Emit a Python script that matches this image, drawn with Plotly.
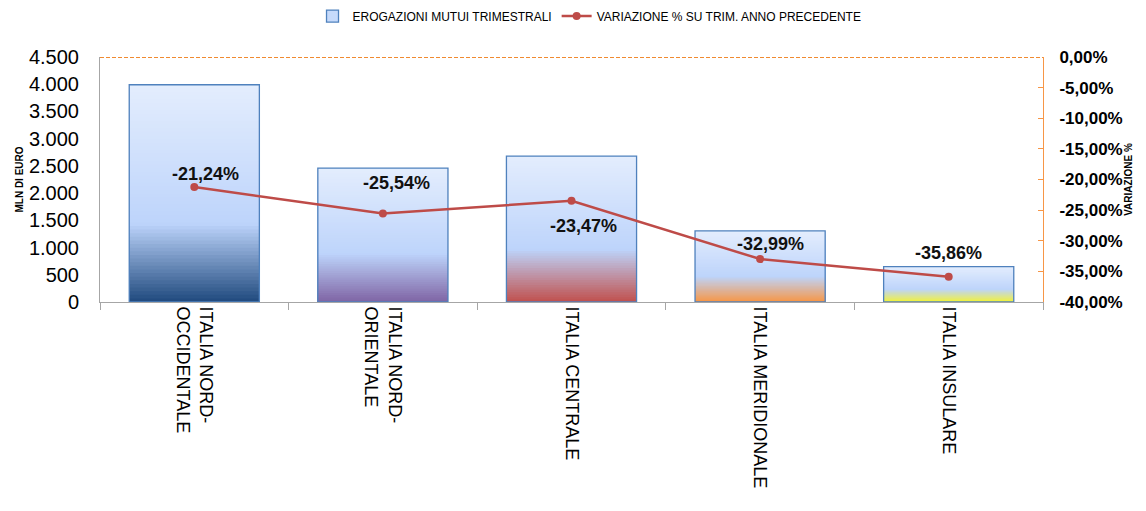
import plotly.graph_objects as go

# ---- data ----
categories = ["ITALIA NORD-<br>OCCIDENTALE", "ITALIA NORD-<br>ORIENTALE", "ITALIA CENTRALE",
              "ITALIA MERIDIONALE", "ITALIA INSULARE"]
erogazioni = [3990, 2460, 2680, 1305, 648]          # MLN di euro
variazione = [-21.24, -25.54, -23.47, -32.99, -35.86]  # %
left_ticks = [0, 500, 1000, 1500, 2000, 2500, 3000, 3500, 4000, 4500]
pct_ticks = [0, -5, -10, -15, -20, -25, -30, -35, -40]
pct_labels = ["0,00%", "-5,00%", "-10,00%", "-15,00%", "-20,00%", "-25,00%", "-30,00%", "-35,00%", "-40,00%"]
var_labels = ["-21,24%", "-25,54%", "-23,47%", "-32,99%", "-35,86%"]

# ---- styles ----
bottom_colors = ["#1F497D", "#7F64A4", "#C0504D", "#F79646", "#F2F23A"]
mid_color = "#BDD4FB"
top_color = "#E3EDFD"
label_offsets = [(11, 13), (14, 30), (12, -25), (10, 15), (0, 24)]
FONT = "Liberation Sans, Arial, sans-serif"


def hex2rgb(h):
    h = h.lstrip("#")
    return [int(h[i:i + 2], 16) for i in (0, 2, 4)]


def mix(c1, c2, t):
    a, b = hex2rgb(c1), hex2rgb(c2)
    return "rgb(%d,%d,%d)" % tuple(round(a[i] + (b[i] - a[i]) * t) for i in range(3))


def grad(bottom, t, stop=0.36):
    if t <= stop:
        return mix(bottom, mid_color, t / stop)
    return mix(mid_color, top_color, (t - stop) / (1 - stop))


fig = go.Figure()

N = 60
BW = 0.69
for j in range(N):
    frac = 1 - j / N
    t = 1 - (j + 0.5) / N
    fig.add_trace(go.Bar(
        x=categories, y=[v * frac for v in erogazioni], width=BW,
        marker=dict(color=[grad(c, t) for c in bottom_colors], line=dict(width=0)),
        showlegend=False, hoverinfo="skip"))

# outline
fig.add_trace(go.Bar(
    x=categories, y=erogazioni, width=BW,
    marker=dict(color="rgba(0,0,0,0)", line=dict(color="#4F81BD", width=1.3)),
    showlegend=False, hoverinfo="skip"))

# legend entry for bars
fig.add_trace(go.Bar(
    x=categories, y=[None] * len(categories), width=BW,
    name="EROGAZIONI MUTUI TRIMESTRALI",
    marker=dict(color="#C6DAFB", line=dict(color="#4F81BD", width=1.3))))

fig.add_trace(go.Scatter(
    x=categories, y=variazione, yaxis="y2", mode="lines+markers",
    name="VARIAZIONE % SU TRIM. ANNO PRECEDENTE",
    line=dict(color="#BE4B48", width=2.5),
    marker=dict(color="#BE4B48", size=8)))

for cat, val, lab, (dx, dy) in zip(categories, variazione, var_labels, label_offsets):
    fig.add_annotation(x=cat, y=val, xref="x", yref="y2", text="<b>%s</b>" % lab,
                       showarrow=False, xshift=dx, yshift=dy,
                       font=dict(family=FONT, size=18, color="#111111"))

fig.add_shape(type="line", xref="paper", yref="y2", x0=0, x1=1, y0=0, y1=0, layer="above",
              line=dict(color="#F08A30", width=2, dash="4px,2px"))

fig.update_layout(
    width=1138, height=503,
    margin=dict(l=92, r=103, t=49, b=209, autoexpand=False),
    paper_bgcolor="white", plot_bgcolor="white",
    barmode="overlay",
    separators=",.",
    font=dict(family=FONT, color="#000000"),
    legend=dict(orientation="h", xref="container", yref="container",
                x=0.511, xanchor="center", y=0.984, yanchor="middle",
                font=dict(family=FONT, size=12), traceorder="normal"),
    xaxis=dict(type="category", range=[-0.5, 4.5], tickson="boundaries", ticks="outside",
               ticklen=7, tickcolor="#A6A6A6", showline=True, linecolor="#A6A6A6",
               tickangle=90, tickfont=dict(family=FONT, size=18), showgrid=False,
               automargin=False),
    yaxis=dict(range=[0, 4500], tickvals=left_ticks, tickformat=",", showgrid=False,
               zeroline=False, showline=True, linecolor="#A6A6A6", automargin=False,
               tickfont=dict(family=FONT, size=20), ticklabelstandoff=16,
               title=dict(text="<b>MLN DI EURO</b>", font=dict(family=FONT, size=10), standoff=3)),
    yaxis2=dict(overlaying="y", side="right", range=[-40, 0], tickvals=pct_ticks,
                ticktext=pct_labels, showgrid=False, zeroline=False, showline=True,
                linecolor="#F79646", ticks="inside", ticklen=5, tickcolor="#F79646",
                automargin=False, ticklabelstandoff=12,
                tickfont=dict(family=FONT, size=17, weight="bold"),
                title=dict(text="<b>VARIAZIONE %</b>", font=dict(family=FONT, size=10), standoff=3)),
)

fig.write_html("out.html")
